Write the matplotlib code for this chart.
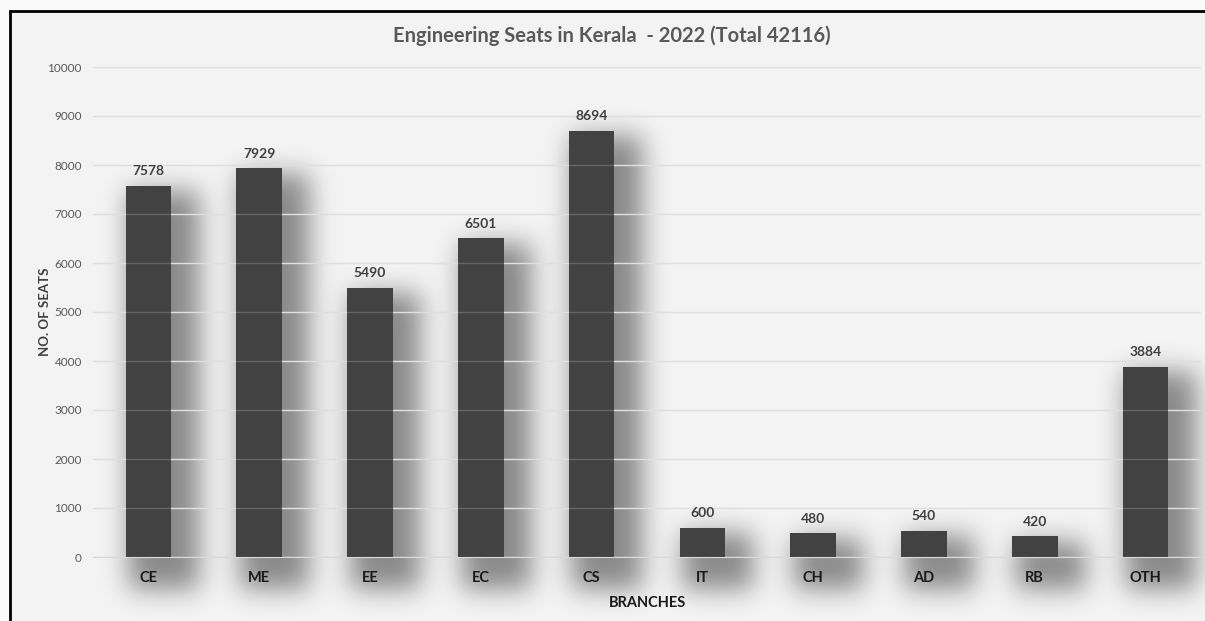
import matplotlib
matplotlib.use('Agg')
import numpy as np
import matplotlib.pyplot as plt
from matplotlib.patches import Rectangle

branches = ['CE', 'ME', 'EE', 'EC', 'CS', 'IT', 'CH', 'AD', 'RB', 'OTH']
seats = [7578, 7929, 5490, 6501, 8694, 600, 480, 540, 420, 3884]
yticks = [0, 1000, 2000, 3000, 4000, 5000, 6000, 7000, 8000, 9000, 10000]

plt.rcParams['font.family'] = ['Lato', 'DejaVu Sans']

W, H = 1205, 621
fig = plt.figure(figsize=(W / 100, H / 100), dpi=100)
fig.patch.set_facecolor('#fafafa')

# chart area background + frame
bg = fig.add_axes([0, 0, 1, 1], zorder=0)
bg.axis('off')
bg.add_patch(Rectangle((10 / W, -0.01), 1.0, (H - 11) / H + 0.01,
                       facecolor='#f3f3f3', edgecolor='black', linewidth=2, zorder=1))

ax = fig.add_axes([93 / W, 64 / H, (1201 - 93) / W, (557 - 67) / H], zorder=1)
ax.set_facecolor('none')
x = list(range(len(branches)))
w = 0.41
ax.set_xlim(-0.5, len(branches) - 0.5)
ax.set_ylim(0, 10000)

# blurred drop shadow, built in pixel space from the bar geometry
mask = np.zeros((H, W))
for i, h in zip(x, seats):
    x0, y0 = ax.transData.transform((i - w / 2, 0))
    x1, y1 = ax.transData.transform((i + w / 2, h))
    c0, c1 = int(x0 + 4), int(x1 + 28)
    r0, r1 = int(H - (y1 - 6)), int(H - (y0 - 32))
    mask[max(r0, 0):min(r1, H), max(c0, 0):min(c1, W)] = 1.0
sig = 13
k = np.arange(-3 * sig, 3 * sig + 1)
kern = np.exp(-k ** 2 / (2 * sig ** 2))
kern /= kern.sum()
mask = np.apply_along_axis(lambda r: np.convolve(r, kern, mode='same'), 1, mask)
mask = np.apply_along_axis(lambda c: np.convolve(c, kern, mode='same'), 0, mask)
shadow = np.zeros((H, W, 4))
shadow[..., 3] = 0.44 * mask
bg.imshow(shadow, extent=(0, 1, 0, 1), aspect='auto', zorder=2, interpolation='bilinear')
bg.set_xlim(0, 1)
bg.set_ylim(0, 1)

ax.grid(axis='y', color='#d9d9d9', linewidth=1, zorder=0)
ax.bar(x, seats, width=w, color='#424242', zorder=3)
for yt in yticks[1:]:
    ax.axhline(yt, color='white', alpha=0.18, linewidth=1, zorder=3.5)
for i, h in zip(x, seats):
    ax.text(i, h + 180, str(h), ha='center', va='bottom', fontsize=10,
            fontweight='bold', color='#404040', zorder=4)

ax.set_yticks(yticks)
ax.set_yticklabels([str(v) for v in yticks], fontsize=8.5, color='#595959')
ax.set_xticks(x)
ax.set_xticklabels(branches, fontsize=10.5, fontweight='bold', color='#1a1a1a')
ax.tick_params(axis='both', length=0)
ax.tick_params(axis='x', pad=10)
ax.tick_params(axis='y', pad=8)
for sp in ['top', 'right', 'left']:
    ax.spines[sp].set_visible(False)
ax.spines['bottom'].set_color('#d9d9d9')
ax.spines['bottom'].set_zorder(5)

ax.set_xlabel('BRANCHES', fontsize=10.5, fontweight='bold', color='#1a1a1a', labelpad=8)
fig.text(45 / W, 1 - 312 / H, 'NO. OF SEATS', rotation=90, ha='center', va='center',
         fontsize=9.5, fontweight='bold', color='#404040')
fig.text(612 / W, 1 - 36 / H, 'Engineering Seats in Kerala  - 2022 (Total 42116)',
         ha='center', va='center', fontsize=14.5, fontweight='bold', color='#595959')

fig.savefig('out.png', dpi=100, facecolor=fig.get_facecolor())
